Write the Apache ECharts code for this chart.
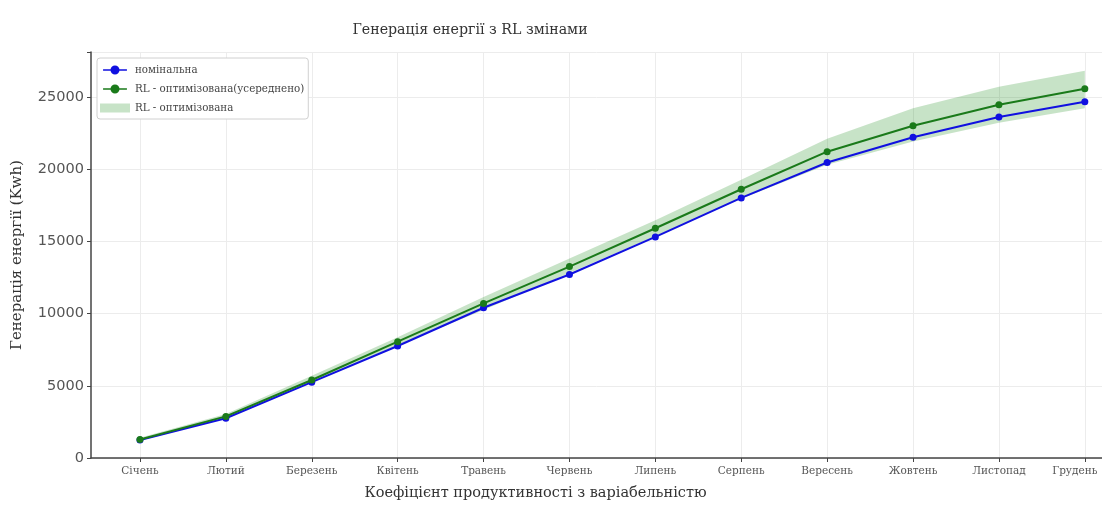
<!DOCTYPE html>
<html>
<head>
<meta charset="utf-8">
<script src="https://cdn.jsdelivr.net/npm/echarts@6/dist/echarts.min.js"></script>
<style>html,body{margin:0;padding:0;background:#fff}#c{width:1102px;height:511px}</style>
</head>
<body>
<div id="c"></div>
<script>
const months = ['Січень','Лютий','Березень','Квітень','Травень','Червень','Липень','Серпень','Вересень','Жовтень','Листопад','Грудень'];
const nominal = [1250, 2750, 5250, 7750, 10400, 12700, 15300, 18000, 20450, 22200, 23600, 24650];
const rlMean  = [1280, 2880, 5400, 8050, 10700, 13250, 15900, 18600, 21200, 23000, 24450, 25550];
const rlLower = [1200, 2750, 5250, 7800, 10250, 12800, 15350, 17950, 20300, 21900, 23200, 24200];
const rlUpper = [1400, 3050, 5700, 8350, 11150, 13800, 16450, 19250, 22100, 24200, 25700, 26800];
const yTicks = [0, 5000, 10000, 15000, 20000, 25000];

const idx = months.map((m, i) => i);
const pts = arr => arr.map((v, i) => [i, v]);

const serif = 'DejaVu Serif';
const bandColor = 'rgba(0,128,0,0.22)';
const markerIcon = 'path://M0,4 L30,4 L30,6 L0,6 Z M11,1 A4,4 0 1 1 19,9 A4,4 0 1 1 11,1 Z';
const lastIdx = months.length - 1;
const chart = echarts.init(document.getElementById('c'));
chart.setOption({
  animation: false,
  backgroundColor: '#fff',
  title: {
    text: 'Генерація енергії з RL змінами',
    left: 465, top: 18, textAlign: 'center',
    textStyle: {fontFamily: serif, fontSize: 14.2, fontWeight: 'normal', color: '#333'}
  },
  legend: {
    orient: 'vertical', left: 97, top: 58,
    itemWidth: 30, itemHeight: 9, itemGap: 9,
    padding: [7, 4, 6, 3],
    borderColor: '#d0d0d0', borderWidth: 1, borderRadius: 3,
    backgroundColor: '#fff',
    textStyle: {fontFamily: serif, fontSize: 10.3, color: '#444'},
    data: [
      {name: 'номінальна', icon: markerIcon},
      {name: 'RL - оптимізована(усереднено)', icon: markerIcon},
      {name: 'RL - оптимізована', icon: 'rect'}
    ]
  },
  grid: {left: 91, right: 0, top: 52, bottom: 53, containLabel: false, outerBoundsMode: 'none'},
  xAxis: {
    type: 'value', min: -0.57, max: 11.2,
    name: 'Коефіцієнт продуктивності з варіабельністю',
    nameLocation: 'middle', nameGap: 28,
    nameTextStyle: {fontFamily: serif, fontSize: 14.5, color: '#333', padding: [0, 122, 0, 0]},
    axisLine: {onZero: false, lineStyle: {color: '#444', width: 1.5}},
    axisTick: {show: true, length: 4, customValues: idx, lineStyle: {color: '#444'}},
    axisLabel: {customValues: idx,
      formatter: v => {
        const i = Math.round(v);
        if (!months[i]) return '';
        return i === lastIdx ? '{last|' + months[i] + '}' : months[i];
      },
      rich: {last: {fontFamily: serif, fontSize: 10.5, color: '#555', padding: [0, 20, 0, 0]}},
      fontFamily: serif, fontSize: 10.5, color: '#555', margin: 8},
    splitLine: {show: true, lineStyle: {color: '#ececec', width: 1}}
  },
  yAxis: {
    type: 'value', min: 0, max: 28100, interval: 5000,
    name: 'Генерація енергії (Kwh)',
    nameLocation: 'middle', nameGap: 66,
    nameTextStyle: {fontFamily: serif, fontSize: 15, color: '#333'},
    axisLine: {show: true, onZero: false, lineStyle: {color: '#444', width: 1.5}},
    axisTick: {show: true, length: 4, lineStyle: {color: '#444'}},
    axisLabel: {fontFamily: 'DejaVu Sans', fontSize: 14.5, color: '#555', margin: 7,
      formatter: v => (yTicks.indexOf(v) >= 0 ? String(v) : '')},
    splitLine: {show: true, lineStyle: {color: '#ececec', width: 1}}
  },
  series: [
    {
      name: 'RL - оптимізована', type: 'custom',
      data: idx.map(i => [i, rlLower[i], rlUpper[i]]),
      itemStyle: {color: bandColor},
      silent: true, z: 1,
      renderItem: function (params, api) {
        if (params.dataIndex !== 0) return null;
        const top = rlUpper.map((v, i) => api.coord([i, v]));
        const bot = rlLower.map((v, i) => api.coord([i, v])).reverse();
        return {
          type: 'polygon',
          shape: {points: top.concat(bot)},
          style: {fill: bandColor}
        };
      }
    },
    {
      name: 'номінальна', type: 'line', data: pts(nominal),
      symbol: 'circle', symbolSize: 7,
      lineStyle: {color: '#1010e0', width: 2},
      itemStyle: {color: '#1010e0'}, z: 3
    },
    {
      name: 'RL - оптимізована(усереднено)', type: 'line', data: pts(rlMean),
      symbol: 'circle', symbolSize: 7,
      lineStyle: {color: '#1a7a1a', width: 2},
      itemStyle: {color: '#1a7a1a'}, z: 4
    }
  ]
});
</script>
</body>
</html>
